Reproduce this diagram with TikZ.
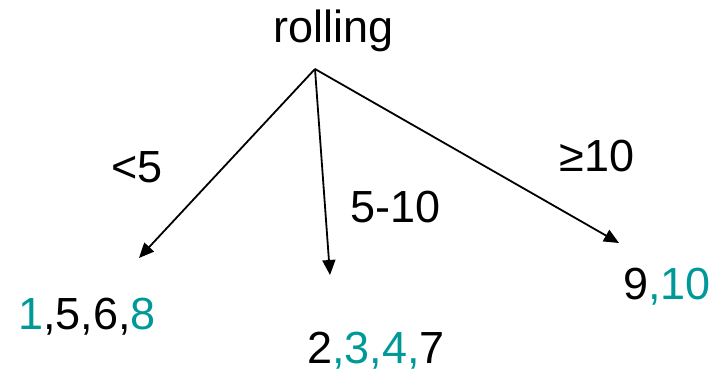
\documentclass[tikz,border=0pt]{standalone}
\usepackage{fontspec}
\setmainfont{Liberation Sans}
\usepackage{xcolor}
\usetikzlibrary{arrows.meta,positioning}
\definecolor{leafteal}{RGB}{0,153,153}

\begin{document}
\begin{tikzpicture}[
    x=1pt, y=-1pt,
    >={Triangle[length=15pt,width=13pt]},
    txt/.style={
        anchor=base,
        inner sep=0pt,
        font=\fontsize{45}{54}\selectfont
    },
    branch/.style={->, line width=1.8pt, black},
    hl/.style={text=leafteal}
]
\useasboundingbox (0,0) rectangle (721,374);

\node[txt] (root) at (334,43) {rolling};
\coordinate (fork) at (315,69);

\coordinate (endlow) at (139,258);
\coordinate (endmid) at (330,275);
\coordinate (endhigh) at (619,243);

\node[txt] (condlow) at (137,183) {<5};
\node[txt] (condmid) at (396,223) {5-10};
\node[txt] (condhigh) at (597,172) {≥10};

\node[txt] (leaflow) at (87,330) {\textcolor{leafteal}{1},5,6,\textcolor{leafteal}{8}};
\node[txt] (leafmid) at (376,363) {2\textcolor{leafteal}{,3,4,}7};
\node[txt] (leafhigh) at (667,300) {9\textcolor{leafteal}{,10}};

\draw[branch] (fork) -- (endlow);
\draw[branch] (fork) -- (endmid);
\draw[branch] (fork) -- (endhigh);

\end{tikzpicture}
\end{document}
